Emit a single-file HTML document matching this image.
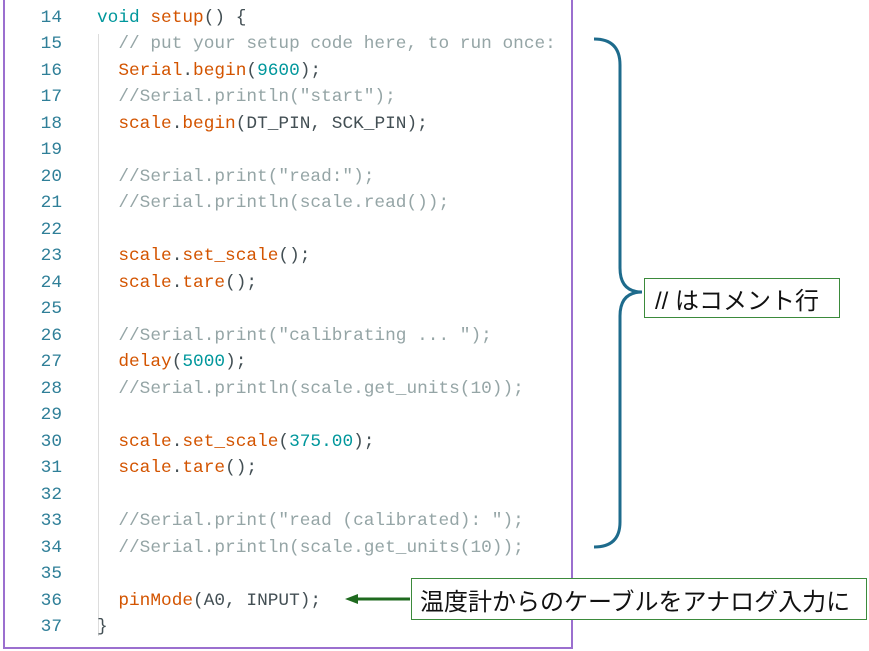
<!DOCTYPE html>
<html><head><meta charset="utf-8"><style>
body{margin:0;width:869px;height:651px;background:#fff;position:relative;overflow:hidden}
.frame{position:absolute;left:3px;top:-2px;width:570px;height:651px;border:2px solid #9b6fcf;box-sizing:border-box;overflow:hidden}
.ln{position:absolute;left:0;width:62px;text-align:right;font:17.8px "Liberation Mono",monospace;color:#2f7f98}
.c{position:absolute;left:97px;font:17.8px "Liberation Mono",monospace;white-space:pre;color:#434f54}
.o{color:#d35400}.t{color:#00979c}.g{color:#95a5a6}
.box{position:absolute;border:1.5px solid #3b8a3b;background:#fff;font:24px "Liberation Sans","Noto Sans CJK JP",sans-serif;color:#111;box-sizing:border-box;display:flex;align-items:center;padding-left:8px;white-space:nowrap}
</style></head><body>
<div style="position:absolute;left:98px;top:34px;width:1px;height:602px;background:#ddd"></div>
<div id="code" style="position:absolute;left:0;top:0;width:869px;height:646px;overflow:hidden"></div>
<div class="frame"></div>
<script>
const L=[
'<span class="t">void</span> <span class="o">setup</span>() {',
'  <span class="g">// put your setup code here, to run once:</span>',
'  <span class="o">Serial</span>.<span class="o">begin</span>(<span class="t">9600</span>);',
'  <span class="g">//Serial.println("start");</span>',
'  <span class="o">scale</span>.<span class="o">begin</span>(DT_PIN, SCK_PIN);',
'',
'  <span class="g">//Serial.print("read:");</span>',
'  <span class="g">//Serial.println(scale.read());</span>',
'',
'  <span class="o">scale</span>.<span class="o">set_scale</span>();',
'  <span class="o">scale</span>.<span class="o">tare</span>();',
'',
'  <span class="g">//Serial.print("calibrating ... ");</span>',
'  <span class="o">delay</span>(<span class="t">5000</span>);',
'  <span class="g">//Serial.println(scale.get_units(10));</span>',
'',
'  <span class="o">scale</span>.<span class="o">set_scale</span>(<span class="t">375.00</span>);',
'  <span class="o">scale</span>.<span class="o">tare</span>();',
'',
'  <span class="g">//Serial.print("read (calibrated): ");</span>',
'  <span class="g">//Serial.println(scale.get_units(10));</span>',
'',
'  <span class="o">pinMode</span>(A0, INPUT);',
'}',
''];
let h='';
for(let i=0;i<L.length;i++){const y=8+i*26.48;
h+=`<div class="ln" style="top:${y}px">${14+i}</div><div class="c" style="top:${y}px">${L[i]}</div>`;}
document.getElementById('code').innerHTML=h;
</script>
<svg style="position:absolute;left:0;top:0" width="869" height="651">
<path d="M594,39 Q620,39 620,65 L620,268 Q620,292 642,292 Q620,292 620,316 L620,522 Q620,547 594,547" fill="none" stroke="#1e6b8c" stroke-width="3"/>
<line x1="410" y1="599" x2="356" y2="599" stroke="#1f6a1f" stroke-width="3"/>
<polygon points="345,599 358,594 358,604" fill="#1f6a1f"/>
</svg>
<div class="box" style="left:644px;top:278px;width:196px;height:40px;padding-left:10px">// はコメント行</div>
<div class="box" style="left:411px;top:578px;width:456px;height:42px">温度計からのケーブルをアナログ入力に</div>
</body></html>
